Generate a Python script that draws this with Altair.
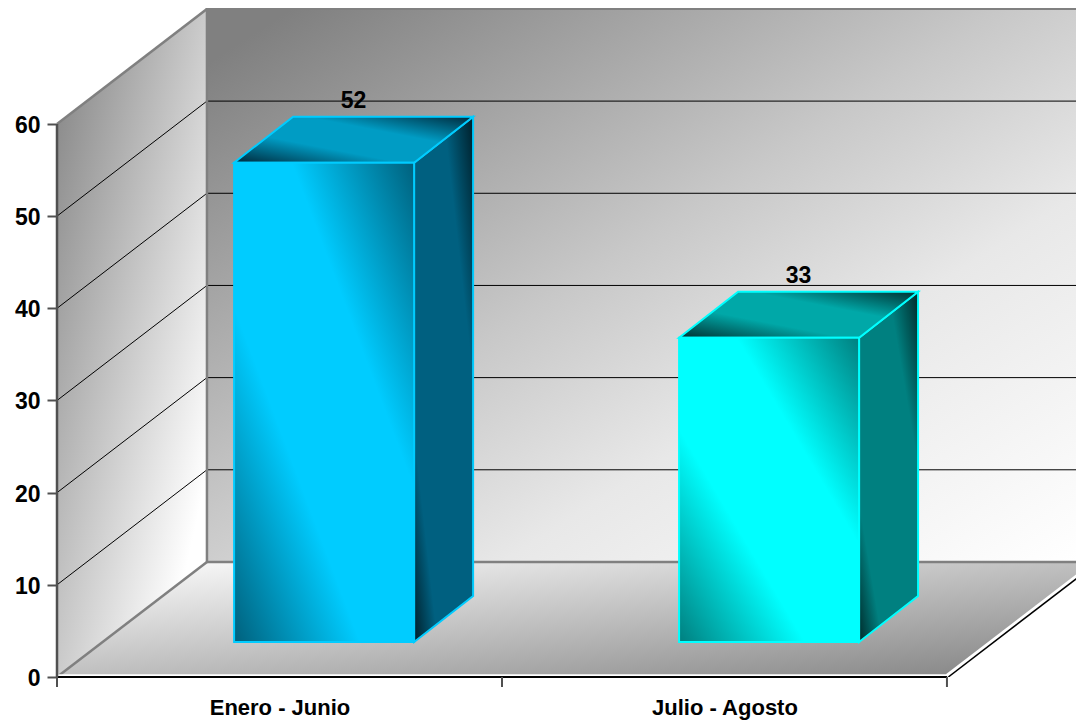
import altair as alt
import pandas as pd

categories = ["Enero - Junio", "Julio - Agosto"]
values = [52, 33]
y_ticks = [0, 10, 20, 30, 40, 50, 60]
bright = ["#00ccff", "#00ffff"]
front_dark = ["#00607c", "#007f7f"]
side_mid = ["#006080", "#008080"]
side_dark = ["#001f2a", "#002a2a"]
top_mid = ["#009cc4", "#00a8a8"]
top_dark = ["#00283a", "#003030"]

# chart-unit geometry: one category = 1 on x, one value unit = 1 on y
X_MAX, Y_MAX = 2.29, 72.58
DX, DY = 0.337, 12.48      # depth of the box
BAR_OFF, BAR_W = 0.398, 0.4045
BAR_DX, BAR_DY = 0.1326, 4.99
LIFT = 3.8

label_expr = f"datum.value < 1 ? '{categories[0]}' : '{categories[1]}'"
x_axis = alt.Axis(
    values=[0.5, 1.5], labelExpr=label_expr, title=None, grid=False,
    domain=False, ticks=False, labelFont="Liberation Sans", labelFontWeight="bold",
    labelFontSize=22, labelColor="#000000", labelPadding=20, labelFlush=False)
y_axis = alt.Axis(
    values=y_ticks, title=None, grid=False, domain=False, tickColor="#505050",
    tickSize=10, tickWidth=2, labelFont="Liberation Sans", labelFontWeight="bold",
    labelFontSize=23, labelColor="#000000", labelPadding=7, labelOffset=1.5)

xs = alt.Scale(domain=[0, X_MAX], range=[0, 1019], nice=False, zero=False)
ys = alt.Scale(domain=[0, Y_MAX], range=[669, 0], nice=False, zero=False)
X = alt.X("x:Q", scale=xs, axis=x_axis)
Y = alt.Y("y:Q", scale=ys, axis=y_axis)
X2 = alt.X2("x2:Q")
Y2 = alt.Y2("y2:Q")


def grad(x1, y1, x2, y2, stops):
    return alt.Gradient(
        gradient="linear", x1=x1, y1=y1, x2=x2, y2=y2,
        stops=[alt.GradientStop(offset=o, color=c) for o, c in stops],
    )


def vface(x0, x1, y0, y1, h, **kw):
    df = pd.DataFrame({"x": [x0, x1], "y": [y0, y1], "y2": [y0 + h, y1 + h]})
    return alt.Chart(df).mark_area(orient="vertical", **kw).encode(x=X, y=Y, y2=Y2)


def hface(x0, x1, y0, y1, w, **kw):
    df = pd.DataFrame({"y": [y0, y1], "x": [x0, x1], "x2": [x0 + w, x1 + w]})
    return alt.Chart(df).mark_area(orient="horizontal", **kw).encode(x=X, x2=X2, y=Y)


def rect(x0, x1, y0, y1, **kw):
    df = pd.DataFrame({"x": [x0], "x2": [x1], "y": [y0], "y2": [y1]})
    return alt.Chart(df).mark_rect(**kw).encode(x=X, x2=X2, y=Y, y2=Y2)


def seg(pts, color, width, clip=False):
    rows = [{"x": p[0], "y": p[1], "k": i} for i, p in enumerate(pts)]
    return alt.Chart(pd.DataFrame(rows)).mark_line(
        color=color, strokeWidth=width, clip=clip
    ).encode(x=X, y=Y, order="k:Q")


layers = []

# back wall, left wall, floor
layers.append(rect(DX, X_MAX, DY, Y_MAX, color=grad(0, 0, 1, 1, [
    (0.05, "#808080"), (0.46, "#c8c8c8"), (0.67, "#e8e8e8"), (1, "#ffffff")])))
layers.append(vface(0, DX, 0, DY, 60, color=grad(0, 0, 1, 1, [(0, "#808080"), (0.85, "#ffffff"), (1, "#ffffff")])))
layers.append(hface(0, DX, 0, DY, 2, clip=True,
                    color=grad(0, 0, 1, 1, [(0, "#ffffff"), (1, "#808080")])))

# gridlines
grid_vals = [v for v in y_ticks if 0 < v < 60]
grid_back = pd.DataFrame({"x": DX, "x2": X_MAX, "y": [v + DY for v in grid_vals]})
layers.append(alt.Chart(grid_back).mark_rule(color="#000000", strokeWidth=1).encode(x=X, x2=X2, y=Y))
for v in grid_vals:
    layers.append(seg([(0, v), (DX, v + DY)], "#000000", 1))

# wall edges
layers.append(seg([(DX, DY), (DX, Y_MAX)], "#808080", 2.5))
layers.append(seg([(DX, DY), (X_MAX, DY)], "#808080", 2.5))
layers.append(seg([(DX, Y_MAX - 0.1), (X_MAX, Y_MAX - 0.1)], "#808080", 2))
layers.append(seg([(0, 60), (DX, 60 + DY)], "#808080", 2.5))
layers.append(seg([(0, 0), (DX, DY)], "#808080", 2.5))
# floor front and right edges
layers.append(seg([(0, 0.15), (2, 0.15)], "#ffffff", 2.5))
layers.append(seg([(2, 0.15), (2 + DX, DY + 0.15)], "#ffffff", 3.5, clip=True))
layers.append(seg([(2.003, 0), (2.003 + DX, DY)], "#000000", 1.5, clip=True))
layers.append(seg([(0, 0), (2, 0)], "#000000", 2))
layers.append(seg([(0, 0), (0, 60)], "#505050", 2.5))

# category ticks
tick_df = pd.DataFrame({"x": [0, 1, 2]})
layers.append(alt.Chart(tick_df).mark_rule(color="#505050", strokeWidth=2).encode(
    x=X, y=alt.value(669), y2=alt.value(679)))

# bars
for i, v in enumerate(values):
    x0 = i + BAR_OFF
    x1 = x0 + BAR_W
    stroke = dict(stroke=bright[i], strokeWidth=2)
    layers.append(vface(x1, x1 + BAR_DX, LIFT, LIFT + BAR_DY, v,
                        color=grad(1, 0, 0, 1, [(0, side_dark[i]), (0.25, side_mid[i]),
                                                (0.8, side_mid[i]), (1, side_dark[i])]), **stroke))
    layers.append(hface(x0, x0 + BAR_DX, LIFT + v, LIFT + v + BAR_DY, BAR_W,
                        color=grad(0, 1, 1, 0, [(0, top_dark[i]), (0.35, top_mid[i]),
                                                (0.65, top_mid[i]), (1, top_dark[i])]), **stroke))
    layers.append(rect(x0, x1, LIFT, LIFT + v,
                       color=grad(0, 1, 1, 0, [(0, front_dark[i]), (0.35, bright[i]), (0.66, bright[i]),
                                               (1, front_dark[i])]), **stroke))
    lab = pd.DataFrame({"x": [x0 + (BAR_W + BAR_DX) / 2], "y": [LIFT + v + BAR_DY], "t": [str(v)]})
    layers.append(alt.Chart(lab).mark_text(
        font="Liberation Sans", fontWeight="bold", fontSize=23, color="#000000",
        baseline="bottom", dy=-4).encode(x=X, y=Y, text="t:N"))

chart = alt.layer(*layers).properties(
    width=1019, height=669,
    padding={"left": 49, "top": 0, "right": 0, "bottom": 45},
    autosize=alt.AutoSizeParams(type="none"),
    background="#ffffff",
).configure_view(stroke=None)

chart.save("out.html", embed_options={"renderer": "svg", "actions": False})
